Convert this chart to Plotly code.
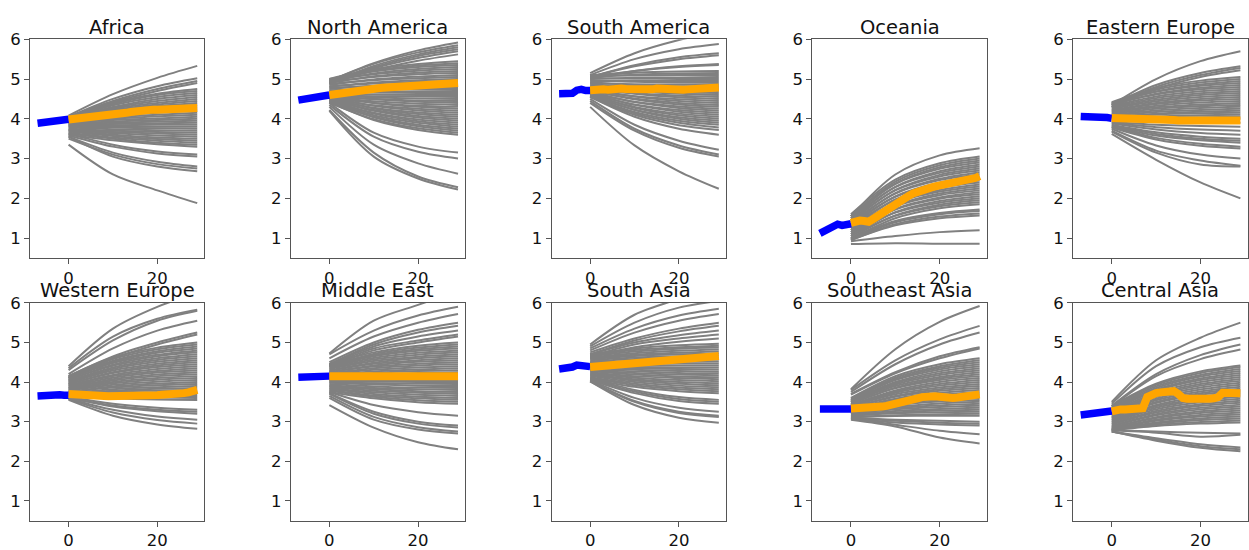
import plotly.graph_objects as go

# ---------------- data ----------------
HIST_X = [-7, -6, -5, -4, -3, -2, -1, 0]
MEDIAN_X = [0, 1, 2, 3, 4, 5, 6, 7, 8, 9, 10, 11, 12, 13, 14, 15, 16, 17, 18, 19,
            20, 21, 22, 23, 24, 25, 26, 27, 28, 29]
FAN_X = [0, 10, 20, 29]
X_TICKS = [0, 20]
Y_TICKS = [1, 2, 3, 4, 5, 6]

REGIONS = ["Africa", "North America", "South America", "Oceania", "Eastern Europe",
           "Western Europe", "Middle East", "South Asia", "Southeast Asia", "Central Asia"]

africa_hist = [3.89, 3.90, 3.92, 3.94, 3.95, 3.97, 3.98, 3.99]
africa_median = [3.98, 3.99, 4.0, 4.01, 4.02, 4.03, 4.04, 4.05, 4.06, 4.08, 4.10, 4.11, 4.13, 4.15, 4.17,
                 4.19, 4.2, 4.21, 4.22, 4.23, 4.23, 4.24, 4.24, 4.25, 4.25, 4.25, 4.26, 4.26, 4.27, 4.27]
africa_fan = [
    [4.08, 4.62, 5.03, 5.33], [4.05, 4.5, 4.82, 5.02], [4.05, 4.45, 4.75, 4.95], [4.02, 4.42, 4.7, 4.9],
    [4.05, 4.4, 4.63, 4.75], [4.03, 4.37, 4.6, 4.7], [4.02, 4.34, 4.55, 4.65], [4.02, 4.3, 4.5, 4.6],
    [4.0, 4.28, 4.45, 4.55], [3.98, 4.25, 4.4, 4.5], [4.0, 4.22, 4.36, 4.45], [3.97, 4.18, 4.32, 4.4],
    [3.95, 4.15, 4.28, 4.35], [3.96, 4.12, 4.23, 4.3], [3.94, 4.1, 4.19, 4.25], [3.92, 4.06, 4.15, 4.2],
    [3.93, 4.03, 4.1, 4.15], [3.9, 4.0, 4.06, 4.1], [3.9, 3.97, 4.01, 4.05], [3.88, 3.93, 3.97, 4.0],
    [3.86, 3.9, 3.93, 3.95], [3.85, 3.87, 3.89, 3.9], [3.84, 3.84, 3.85, 3.85], [3.82, 3.8, 3.8, 3.8],
    [3.8, 3.78, 3.76, 3.75], [3.78, 3.74, 3.71, 3.7], [3.75, 3.7, 3.67, 3.65], [3.73, 3.67, 3.63, 3.6],
    [3.72, 3.64, 3.58, 3.55], [3.7, 3.6, 3.53, 3.5], [3.68, 3.57, 3.49, 3.45], [3.65, 3.53, 3.45, 3.4],
    [3.63, 3.5, 3.4, 3.35], [3.6, 3.46, 3.36, 3.3], [3.62, 3.35, 3.18, 3.1], [3.58, 3.3, 3.13, 3.05],
    [3.55, 3.15, 2.92, 2.8], [3.5, 3.1, 2.86, 2.75], [3.55, 3.05, 2.8, 2.68], [3.35, 2.6, 2.2, 1.88],
]

north_america_hist = [4.47, 4.49, 4.5, 4.52, 4.54, 4.56, 4.58, 4.6]
north_america_median = [4.6, 4.62, 4.64, 4.66, 4.68, 4.7, 4.71, 4.72, 4.74, 4.75, 4.76, 4.77, 4.78, 4.79,
                        4.8, 4.81, 4.82, 4.83, 4.84, 4.85, 4.86, 4.86, 4.87, 4.87, 4.88, 4.88, 4.89,
                        4.89, 4.9, 4.9]
north_america_fan = [
    [4.95, 5.4, 5.72, 5.92], [4.95, 5.38, 5.67, 5.85], [4.9, 5.33, 5.62, 5.8], [4.92, 5.3, 5.58, 5.75],
    [4.9, 5.27, 5.53, 5.7], [4.88, 5.22, 5.46, 5.62],
    [5.0, 5.25, 5.38, 5.45], [4.98, 5.21, 5.34, 5.4], [5.0, 5.19, 5.3, 5.35], [4.95, 5.14, 5.25, 5.3],
    [4.97, 5.12, 5.21, 5.25], [4.9, 5.07, 5.16, 5.2], [4.92, 5.05, 5.12, 5.15], [4.85, 4.99, 5.06, 5.1],
    [4.88, 4.97, 5.02, 5.05], [4.8, 4.91, 4.97, 5.0], [4.82, 4.89, 4.93, 4.95], [4.75, 4.83, 4.88, 4.9],
    [4.78, 4.82, 4.84, 4.85], [4.7, 4.76, 4.79, 4.8], [4.72, 4.74, 4.75, 4.75], [4.65, 4.68, 4.69, 4.7],
    [4.68, 4.66, 4.65, 4.65], [4.62, 4.61, 4.6, 4.6], [4.6, 4.57, 4.56, 4.55], [4.58, 4.54, 4.51, 4.5],
    [4.55, 4.5, 4.46, 4.45], [4.6, 4.49, 4.43, 4.4], [4.55, 4.44, 4.38, 4.35], [4.52, 4.4, 4.33, 4.3],
    [4.58, 4.4, 4.3, 4.25], [4.5, 4.34, 4.25, 4.2], [4.55, 4.33, 4.21, 4.15], [4.5, 4.28, 4.16, 4.1],
    [4.52, 4.26, 4.12, 4.05], [4.48, 4.22, 4.07, 4.0], [4.5, 4.2, 4.03, 3.95], [4.45, 4.15, 3.98, 3.9],
    [4.48, 4.13, 3.94, 3.85], [4.45, 4.09, 3.9, 3.8], [4.42, 4.05, 3.85, 3.75], [4.45, 4.04, 3.81, 3.7],
    [4.4, 3.99, 3.76, 3.65], [4.42, 3.97, 3.72, 3.6],
    [4.4, 3.65, 3.3, 3.15], [4.35, 3.55, 3.17, 3.0], [4.3, 3.35, 2.88, 2.62], [4.22, 3.15, 2.55, 2.28],
    [4.2, 3.05, 2.5, 2.22],
]

south_america_hist = [4.63, 4.62, 4.62, 4.64, 4.72, 4.74, 4.71, 4.71]
south_america_median = [4.72, 4.74, 4.76, 4.74, 4.73, 4.75, 4.77, 4.76, 4.75, 4.74, 4.76, 4.77, 4.76,
                        4.75, 4.74, 4.76, 4.75, 4.77, 4.76, 4.75, 4.74, 4.73, 4.74, 4.75, 4.74, 4.73,
                        4.75, 4.76, 4.78, 4.79]
south_america_fan = [
    [5.15, 5.65, 5.98, 6.2], [5.1, 5.5, 5.75, 5.88], [5.05, 5.35, 5.55, 5.65], [5.05, 5.32, 5.5, 5.6],
    [5.0, 5.2, 5.32, 5.38], [5.05, 5.2, 5.3, 5.35],
    [5.1, 5.16, 5.19, 5.2], [5.05, 5.11, 5.14, 5.15], [5.08, 5.09, 5.1, 5.1], [5.0, 5.03, 5.04, 5.05],
    [5.02, 5.01, 5.0, 5.0], [4.95, 4.95, 4.95, 4.95], [4.97, 4.93, 4.91, 4.9], [4.9, 4.87, 4.86, 4.85],
    [4.92, 4.85, 4.82, 4.8], [4.85, 4.8, 4.76, 4.75], [4.88, 4.78, 4.73, 4.7], [4.8, 4.72, 4.67, 4.65],
    [4.82, 4.7, 4.63, 4.6], [4.75, 4.64, 4.58, 4.55], [4.78, 4.63, 4.54, 4.5], [4.72, 4.57, 4.49, 4.45],
    [4.75, 4.56, 4.45, 4.4], [4.7, 4.51, 4.4, 4.35], [4.72, 4.49, 4.36, 4.3], [4.65, 4.43, 4.31, 4.25],
    [4.68, 4.42, 4.27, 4.2], [4.62, 4.36, 4.22, 4.15], [4.65, 4.35, 4.18, 4.1], [4.6, 4.3, 4.13, 4.05],
    [4.62, 4.28, 4.09, 4.0], [4.58, 4.23, 4.04, 3.95], [4.6, 4.22, 4.0, 3.9], [4.55, 4.17, 3.95, 3.85],
    [4.58, 4.14, 3.9, 3.78], [4.55, 4.1, 3.84, 3.72],
    [4.55, 4.05, 3.75, 3.6], [4.5, 3.85, 3.45, 3.22], [4.45, 3.75, 3.33, 3.1], [4.4, 3.7, 3.27, 3.05],
    [4.3, 3.33, 2.68, 2.24],
]

oceania_hist = [1.12, 1.17, 1.23, 1.25, 1.35, 1.32, 1.33, 1.36]
oceania_median = [1.38, 1.42, 1.44, 1.43, 1.41, 1.48, 1.56, 1.64, 1.72, 1.8, 1.88, 1.94, 2.0, 2.06, 2.12,
                  2.17, 2.21, 2.25, 2.27, 2.3, 2.32, 2.34, 2.36, 2.38, 2.4, 2.42, 2.44, 2.47, 2.51, 2.56]
oceania_fan = [
    [1.55, 2.6, 3.08, 3.26],
    [1.6, 2.47, 2.88, 3.05], [1.55, 2.42, 2.83, 3.0], [1.5, 2.37, 2.78, 2.95], [1.55, 2.36, 2.74, 2.9],
    [1.45, 2.29, 2.68, 2.85], [1.5, 2.28, 2.64, 2.8], [1.4, 2.21, 2.59, 2.75], [1.45, 2.2, 2.55, 2.7],
    [1.35, 2.13, 2.49, 2.65], [1.4, 2.12, 2.46, 2.6], [1.3, 2.05, 2.4, 2.55], [1.35, 2.04, 2.36, 2.5],
    [1.25, 1.97, 2.31, 2.45], [1.3, 1.96, 2.27, 2.4], [1.2, 1.89, 2.21, 2.35], [1.25, 1.88, 2.17, 2.3],
    [1.15, 1.81, 2.12, 2.25], [1.2, 1.8, 2.08, 2.2], [1.1, 1.73, 2.02, 2.15], [1.15, 1.72, 1.99, 2.1],
    [1.05, 1.65, 1.93, 2.05], [1.1, 1.64, 1.89, 2.0], [1.0, 1.57, 1.84, 1.95], [1.05, 1.56, 1.8, 1.9],
    [0.98, 1.5, 1.75, 1.85],
    [1.0, 1.43, 1.63, 1.72], [0.97, 1.4, 1.6, 1.68], [0.95, 1.35, 1.54, 1.62], [0.95, 1.32, 1.5, 1.57],
    [0.92, 1.05, 1.15, 1.2], [0.85, 0.87, 0.86, 0.86],
]

eastern_europe_hist = [4.06, 4.06, 4.06, 4.06, 4.05, 4.05, 4.03, 4.01]
eastern_europe_median = [4.02, 4.02, 4.01, 4.01, 4.0, 4.0, 3.99, 3.99, 3.98, 3.98, 3.98, 3.97, 3.97, 3.97,
                         3.97, 3.96, 3.96, 3.96, 3.96, 3.95, 3.95, 3.95, 3.95, 3.95, 3.95, 3.95, 3.95,
                         3.96, 3.96, 3.96]
eastern_europe_fan = [
    [4.35, 5.0, 5.45, 5.7], [4.35, 4.85, 5.15, 5.32], [4.3, 4.8, 5.1, 5.28], [4.3, 4.75, 5.05, 5.22],
    [4.42, 4.77, 4.96, 5.05], [4.4, 4.73, 4.91, 5.0], [4.38, 4.69, 4.86, 4.95], [4.4, 4.68, 4.83, 4.9],
    [4.35, 4.63, 4.78, 4.85], [4.37, 4.61, 4.74, 4.8], [4.32, 4.56, 4.69, 4.75], [4.3, 4.52, 4.64, 4.7],
    [4.28, 4.48, 4.6, 4.65], [4.25, 4.44, 4.55, 4.6], [4.22, 4.4, 4.5, 4.55], [4.2, 4.37, 4.46, 4.5],
    [4.18, 4.33, 4.41, 4.45], [4.15, 4.29, 4.36, 4.4], [4.12, 4.25, 4.32, 4.35], [4.1, 4.21, 4.27, 4.3],
    [4.08, 4.17, 4.22, 4.25], [4.05, 4.13, 4.18, 4.2], [4.05, 4.11, 4.14, 4.15], [4.02, 4.06, 4.09, 4.1],
    [4.0, 4.03, 4.04, 4.05], [3.98, 3.99, 4.0, 4.0], [3.95, 3.92, 3.91, 3.9], [3.92, 3.85, 3.82, 3.8],
    [3.9, 3.79, 3.73, 3.7], [3.88, 3.73, 3.64, 3.6], [3.85, 3.66, 3.55, 3.5], [3.83, 3.62, 3.5, 3.45],
    [3.8, 3.58, 3.46, 3.4],
    [3.8, 3.52, 3.37, 3.3], [3.78, 3.48, 3.32, 3.25], [3.75, 3.33, 3.1, 3.0], [3.7, 3.2, 2.95, 2.82],
    [3.68, 3.15, 2.85, 2.8], [3.62, 2.97, 2.4, 2.0],
]

western_europe_hist = [3.65, 3.66, 3.68, 3.7, 3.69, 3.68, 3.67, 3.67]
western_europe_median = [3.7, 3.7, 3.69, 3.68, 3.68, 3.67, 3.66, 3.66, 3.65, 3.64, 3.64, 3.63, 3.62, 3.62,
                         3.63, 3.63, 3.64, 3.65, 3.66, 3.66, 3.67, 3.68, 3.68, 3.69, 3.7, 3.71, 3.72,
                         3.74, 3.77, 3.8]
western_europe_fan = [
    [4.4, 5.35, 5.9, 6.25], [4.35, 5.15, 5.6, 5.83], [4.3, 5.05, 5.55, 5.8], [4.2, 4.85, 5.3, 5.55],
    [4.15, 4.65, 5.0, 5.25], [4.12, 4.6, 4.95, 5.2],
    [4.15, 4.62, 4.87, 5.0], [4.12, 4.58, 4.83, 4.95], [4.1, 4.54, 4.78, 4.9], [4.1, 4.51, 4.74, 4.85],
    [4.08, 4.48, 4.69, 4.8], [4.05, 4.44, 4.65, 4.75], [4.05, 4.41, 4.6, 4.7], [4.02, 4.37, 4.56, 4.65],
    [4.0, 4.33, 4.51, 4.6], [3.98, 4.29, 4.46, 4.55], [3.95, 4.25, 4.42, 4.5], [3.95, 4.23, 4.38, 4.45],
    [3.92, 4.18, 4.33, 4.4], [3.9, 4.15, 4.28, 4.35], [3.88, 4.11, 4.24, 4.3], [3.85, 4.07, 4.19, 4.25],
    [3.85, 4.04, 4.15, 4.2], [3.82, 4.0, 4.1, 4.15], [3.8, 3.97, 4.06, 4.1], [3.78, 3.93, 4.01, 4.05],
    [3.75, 3.89, 3.96, 4.0], [3.75, 3.86, 3.92, 3.95], [3.72, 3.82, 3.87, 3.9], [3.7, 3.78, 3.83, 3.85],
    [3.7, 3.76, 3.79, 3.8], [3.68, 3.72, 3.74, 3.75], [3.67, 3.69, 3.7, 3.7], [3.65, 3.65, 3.65, 3.65],
    [3.65, 3.62, 3.61, 3.6], [3.63, 3.59, 3.56, 3.55],
    [3.62, 3.45, 3.35, 3.3], [3.6, 3.41, 3.3, 3.25], [3.6, 3.38, 3.26, 3.2], [3.58, 3.3, 3.13, 3.05],
    [3.57, 3.23, 3.04, 2.95], [3.55, 3.15, 2.93, 2.82],
]

middle_east_hist = [4.12, 4.13, 4.14, 4.15, 4.15, 4.15, 4.15, 4.15]
middle_east_median = [4.15, 4.15, 4.16, 4.16, 4.16, 4.17, 4.17, 4.17, 4.17, 4.18, 4.18, 4.18, 4.18, 4.18,
                      4.19, 4.19, 4.19, 4.19, 4.18, 4.18, 4.18, 4.17, 4.17, 4.17, 4.16, 4.16, 4.16,
                      4.15, 4.15, 4.15]
middle_east_fan = [
    [4.72, 5.55, 5.95, 6.3], [4.7, 5.3, 5.68, 5.9], [4.6, 5.15, 5.5, 5.72], [4.5, 5.0, 5.32, 5.5],
    [4.45, 4.95, 5.25, 5.42], [4.45, 4.9, 5.15, 5.3], [4.42, 4.85, 5.05, 5.2], [4.4, 4.8, 5.0, 5.15],
    [4.45, 4.75, 4.92, 5.0], [4.42, 4.71, 4.87, 4.95], [4.4, 4.68, 4.83, 4.9], [4.4, 4.65, 4.79, 4.85],
    [4.38, 4.61, 4.74, 4.8], [4.35, 4.57, 4.69, 4.75], [4.33, 4.53, 4.64, 4.7], [4.3, 4.49, 4.6, 4.65],
    [4.28, 4.46, 4.55, 4.6], [4.25, 4.42, 4.51, 4.55], [4.25, 4.39, 4.46, 4.5], [4.22, 4.35, 4.42, 4.45],
    [4.2, 4.31, 4.37, 4.4], [4.18, 4.27, 4.32, 4.35], [4.15, 4.23, 4.28, 4.3], [4.12, 4.19, 4.23, 4.25],
    [4.1, 4.16, 4.19, 4.2], [4.08, 4.12, 4.14, 4.15], [4.05, 4.08, 4.09, 4.1], [4.05, 4.05, 4.05, 4.05],
    [4.02, 4.01, 4.0, 4.0], [4.0, 3.97, 3.96, 3.95], [3.98, 3.94, 3.91, 3.9], [3.95, 3.89, 3.86, 3.85],
    [3.92, 3.85, 3.82, 3.8], [3.9, 3.82, 3.77, 3.75], [3.88, 3.78, 3.73, 3.7], [3.85, 3.74, 3.68, 3.65],
    [3.83, 3.7, 3.63, 3.6], [3.8, 3.66, 3.59, 3.55], [3.78, 3.63, 3.54, 3.5], [3.75, 3.59, 3.49, 3.45],
    [3.75, 3.42, 3.24, 3.15], [3.72, 3.25, 3.0, 2.9], [3.7, 3.2, 2.95, 2.85], [3.65, 3.12, 2.86, 2.75],
    [3.6, 3.05, 2.8, 2.7], [3.42, 2.85, 2.48, 2.3],
]

south_asia_hist = [4.33, 4.34, 4.36, 4.38, 4.43, 4.42, 4.4, 4.39]
south_asia_median = [4.38, 4.39, 4.4, 4.41, 4.42, 4.43, 4.43, 4.44, 4.45, 4.46, 4.47, 4.48, 4.48, 4.49,
                     4.5, 4.5, 4.51, 4.52, 4.53, 4.54, 4.55, 4.56, 4.57, 4.58, 4.59, 4.6, 4.62, 4.63,
                     4.65, 4.66]
south_asia_fan = [
    [4.95, 5.7, 6.1, 6.4], [4.9, 5.5, 5.88, 6.05], [4.85, 5.35, 5.68, 5.85], [4.8, 5.25, 5.55, 5.72],
    [4.75, 5.1, 5.35, 5.5], [4.7, 5.05, 5.28, 5.42], [4.7, 5.0, 5.18, 5.3], [4.65, 4.95, 5.1, 5.2],
    [4.62, 4.88, 5.02, 5.1],
    [4.7, 4.85, 4.93, 4.97], [4.68, 4.81, 4.88, 4.92], [4.65, 4.77, 4.84, 4.87], [4.62, 4.73, 4.79, 4.82],
    [4.6, 4.69, 4.74, 4.77], [4.58, 4.66, 4.7, 4.72], [4.55, 4.62, 4.65, 4.67], [4.52, 4.58, 4.61, 4.62],
    [4.5, 4.54, 4.56, 4.57], [4.48, 4.5, 4.51, 4.52], [4.45, 4.46, 4.47, 4.47], [4.42, 4.42, 4.42, 4.42],
    [4.4, 4.38, 4.37, 4.37], [4.38, 4.35, 4.33, 4.32], [4.35, 4.31, 4.28, 4.27], [4.32, 4.27, 4.23, 4.22],
    [4.3, 4.23, 4.19, 4.17], [4.28, 4.19, 4.14, 4.12], [4.25, 4.15, 4.1, 4.07], [4.22, 4.11, 4.05, 4.02],
    [4.2, 4.07, 4.0, 3.97], [4.18, 4.04, 3.96, 3.92], [4.15, 4.0, 3.91, 3.87], [4.12, 3.96, 3.86, 3.82],
    [4.1, 3.92, 3.82, 3.77], [4.08, 3.88, 3.77, 3.72],
    [4.1, 3.8, 3.62, 3.55], [4.08, 3.76, 3.57, 3.5], [4.05, 3.72, 3.52, 3.45], [4.05, 3.6, 3.35, 3.25],
    [4.03, 3.52, 3.25, 3.15], [4.02, 3.5, 3.22, 3.12], [4.02, 3.42, 3.1, 2.97],
]

southeast_asia_hist = [3.32, 3.32, 3.32, 3.32, 3.32, 3.32, 3.32, 3.32]
southeast_asia_median = [3.33, 3.33, 3.34, 3.34, 3.35, 3.36, 3.37, 3.38, 3.4, 3.42, 3.45, 3.47, 3.5, 3.53,
                         3.56, 3.59, 3.62, 3.64, 3.65, 3.64, 3.63, 3.61, 3.6, 3.6, 3.61, 3.62, 3.63,
                         3.65, 3.67, 3.69]
southeast_asia_fan = [
    [3.82, 4.83, 5.52, 5.92], [3.8, 4.55, 5.08, 5.42], [3.75, 4.45, 4.95, 5.25], [3.7, 4.25, 4.65, 4.88],
    [3.68, 4.22, 4.6, 4.85],
    [3.6, 4.15, 4.45, 4.6], [3.58, 4.11, 4.4, 4.55], [3.55, 4.07, 4.36, 4.5], [3.55, 4.05, 4.32, 4.45],
    [3.52, 4.0, 4.27, 4.4], [3.5, 3.97, 4.22, 4.35], [3.5, 3.94, 4.18, 4.3], [3.48, 3.9, 4.13, 4.25],
    [3.45, 3.86, 4.09, 4.2], [3.45, 3.84, 4.05, 4.15], [3.42, 3.79, 4.0, 4.1], [3.4, 3.76, 3.95, 4.05],
    [3.4, 3.73, 3.91, 4.0], [3.38, 3.69, 3.86, 3.95], [3.35, 3.65, 3.82, 3.9], [3.35, 3.63, 3.78, 3.85],
    [3.32, 3.58, 3.73, 3.8], [3.3, 3.55, 3.68, 3.75], [3.3, 3.52, 3.64, 3.7], [3.28, 3.48, 3.59, 3.65],
    [3.25, 3.44, 3.55, 3.6], [3.25, 3.42, 3.51, 3.55], [3.22, 3.37, 3.46, 3.5], [3.2, 3.34, 3.41, 3.45],
    [3.2, 3.31, 3.37, 3.4], [3.18, 3.27, 3.32, 3.35], [3.15, 3.23, 3.28, 3.3], [3.15, 3.21, 3.24, 3.25],
    [3.12, 3.16, 3.19, 3.2], [3.12, 3.14, 3.15, 3.15],
    [3.1, 3.05, 3.02, 3.0], [3.1, 3.02, 2.97, 2.95], [3.08, 2.98, 2.93, 2.9], [3.08, 2.92, 2.77, 2.68],
    [3.05, 2.88, 2.6, 2.45],
]

central_asia_hist = [3.17, 3.18, 3.2, 3.21, 3.23, 3.25, 3.27, 3.27]
central_asia_median = [3.26, 3.3, 3.31, 3.31, 3.32, 3.32, 3.33, 3.34, 3.62, 3.7, 3.72, 3.74, 3.76, 3.77,
                       3.77, 3.7, 3.6, 3.58, 3.57, 3.57, 3.57, 3.58, 3.58, 3.59, 3.62, 3.73, 3.74, 3.74,
                       3.73, 3.72]
central_asia_fan = [
    [3.5, 4.55, 5.12, 5.5], [3.45, 4.4, 4.88, 5.12], [3.4, 4.2, 4.68, 4.95], [3.38, 4.15, 4.58, 4.82],
    [3.4, 3.96, 4.27, 4.42], [3.38, 3.93, 4.23, 4.38], [3.35, 3.89, 4.18, 4.33], [3.32, 3.85, 4.14, 4.28],
    [3.3, 3.81, 4.09, 4.23], [3.28, 3.78, 4.05, 4.18], [3.25, 3.73, 4.0, 4.13], [3.22, 3.69, 3.95, 4.08],
    [3.2, 3.66, 3.91, 4.03], [3.18, 3.62, 3.86, 3.98], [3.15, 3.58, 3.81, 3.93], [3.12, 3.54, 3.76, 3.88],
    [3.1, 3.5, 3.72, 3.83], [3.08, 3.47, 3.68, 3.78], [3.05, 3.42, 3.63, 3.73], [3.03, 3.39, 3.58, 3.68],
    [3.0, 3.35, 3.54, 3.63], [2.98, 3.31, 3.49, 3.58], [2.95, 3.27, 3.44, 3.53], [2.93, 3.23, 3.4, 3.48],
    [2.9, 3.19, 3.35, 3.43], [2.88, 3.16, 3.31, 3.38], [2.85, 3.11, 3.26, 3.33], [2.85, 3.09, 3.22, 3.28],
    [2.82, 3.05, 3.17, 3.23], [2.82, 3.02, 3.13, 3.18], [2.8, 2.98, 3.08, 3.13], [2.8, 2.95, 3.04, 3.08],
    [2.78, 2.92, 2.99, 3.03], [2.78, 2.89, 2.95, 2.98],
    [2.78, 2.75, 2.72, 2.7], [2.78, 2.72, 2.62, 2.67], [2.75, 2.58, 2.43, 2.35], [2.75, 2.55, 2.38, 2.3],
    [2.75, 2.52, 2.34, 2.25],
]

HIST = [africa_hist, north_america_hist, south_america_hist, oceania_hist, eastern_europe_hist,
        western_europe_hist, middle_east_hist, south_asia_hist, southeast_asia_hist, central_asia_hist]
MEDIANS = [africa_median, north_america_median, south_america_median, oceania_median,
           eastern_europe_median, western_europe_median, middle_east_median, south_asia_median,
           southeast_asia_median, central_asia_median]
FANS = [africa_fan, north_america_fan, south_america_fan, oceania_fan, eastern_europe_fan,
        western_europe_fan, middle_east_fan, south_asia_fan, southeast_asia_fan, central_asia_fan]

# ---------------- layout geometry (pixels) ----------------
W, H = 1249, 550
COL_LEFT = [30, 291, 552, 813, 1074]
COL_WIDTH = 174.5
ROW_TOP = [31, 301]
ROW_HEIGHT = [224, 223]
TITLE_Y = [19, 288]

fig = go.Figure()
layout = dict(width=W, height=H, margin=dict(l=0, r=0, t=0, b=0),
              paper_bgcolor="white", plot_bgcolor="white", showlegend=False,
              font=dict(family="DejaVu Sans", color="#111111"))
annotations = []

for i, name in enumerate(REGIONS):
    r, c = divmod(i, 5)
    k = "" if i == 0 else str(i + 1)
    xa, ya = "x" + k, "y" + k
    x0 = COL_LEFT[c] / W
    x1 = (COL_LEFT[c] + COL_WIDTH) / W
    ytop = 1 - ROW_TOP[r] / H
    ybot = 1 - (ROW_TOP[r] + ROW_HEIGHT[r]) / H
    axis_common = dict(showline=True, mirror=True, linecolor="#555555", linewidth=1,
                       ticks="outside", ticklen=5, tickwidth=1, tickcolor="#555555",
                       showgrid=False, zeroline=False, tickfont=dict(size=16.5, color="#111111"))
    layout["xaxis" + k] = dict(axis_common, domain=[x0, x1], range=[-8.7, 30.6],
                               tickmode="array", tickvals=X_TICKS, anchor=ya)
    layout["yaxis" + k] = dict(axis_common, domain=[ybot, ytop], range=[0.5, 6.0],
                               tickmode="array", tickvals=Y_TICKS, anchor=xa)

    # gray fan lines combined into one trace separated by gaps
    fx, fy = [], []
    for line in FANS[i]:
        fx += FAN_X + [None]
        fy += line + [None]
    fig.add_trace(go.Scatter(x=fx, y=fy, mode="lines", xaxis=xa, yaxis=ya,
                             line=dict(color="#808080", width=2, shape="spline", smoothing=0.9),
                             connectgaps=False, hoverinfo="skip"))
    fig.add_trace(go.Scatter(x=HIST_X, y=HIST[i], mode="lines", xaxis=xa, yaxis=ya,
                             line=dict(color="#0000ff", width=7.5)))
    fig.add_trace(go.Scatter(x=MEDIAN_X, y=MEDIANS[i], mode="lines", xaxis=xa, yaxis=ya,
                             line=dict(color="#ffa500", width=8)))

    annotations.append(dict(text=name, xref="paper", yref="paper",
                            x=(x0 + x1) / 2, y=1 - TITLE_Y[r] / H,
                            xanchor="center", yanchor="middle", showarrow=False,
                            font=dict(size=19.5, color="#111111", family="DejaVu Sans")))

layout["annotations"] = annotations
fig.update_layout(**layout)
fig.write_html("out.html")
